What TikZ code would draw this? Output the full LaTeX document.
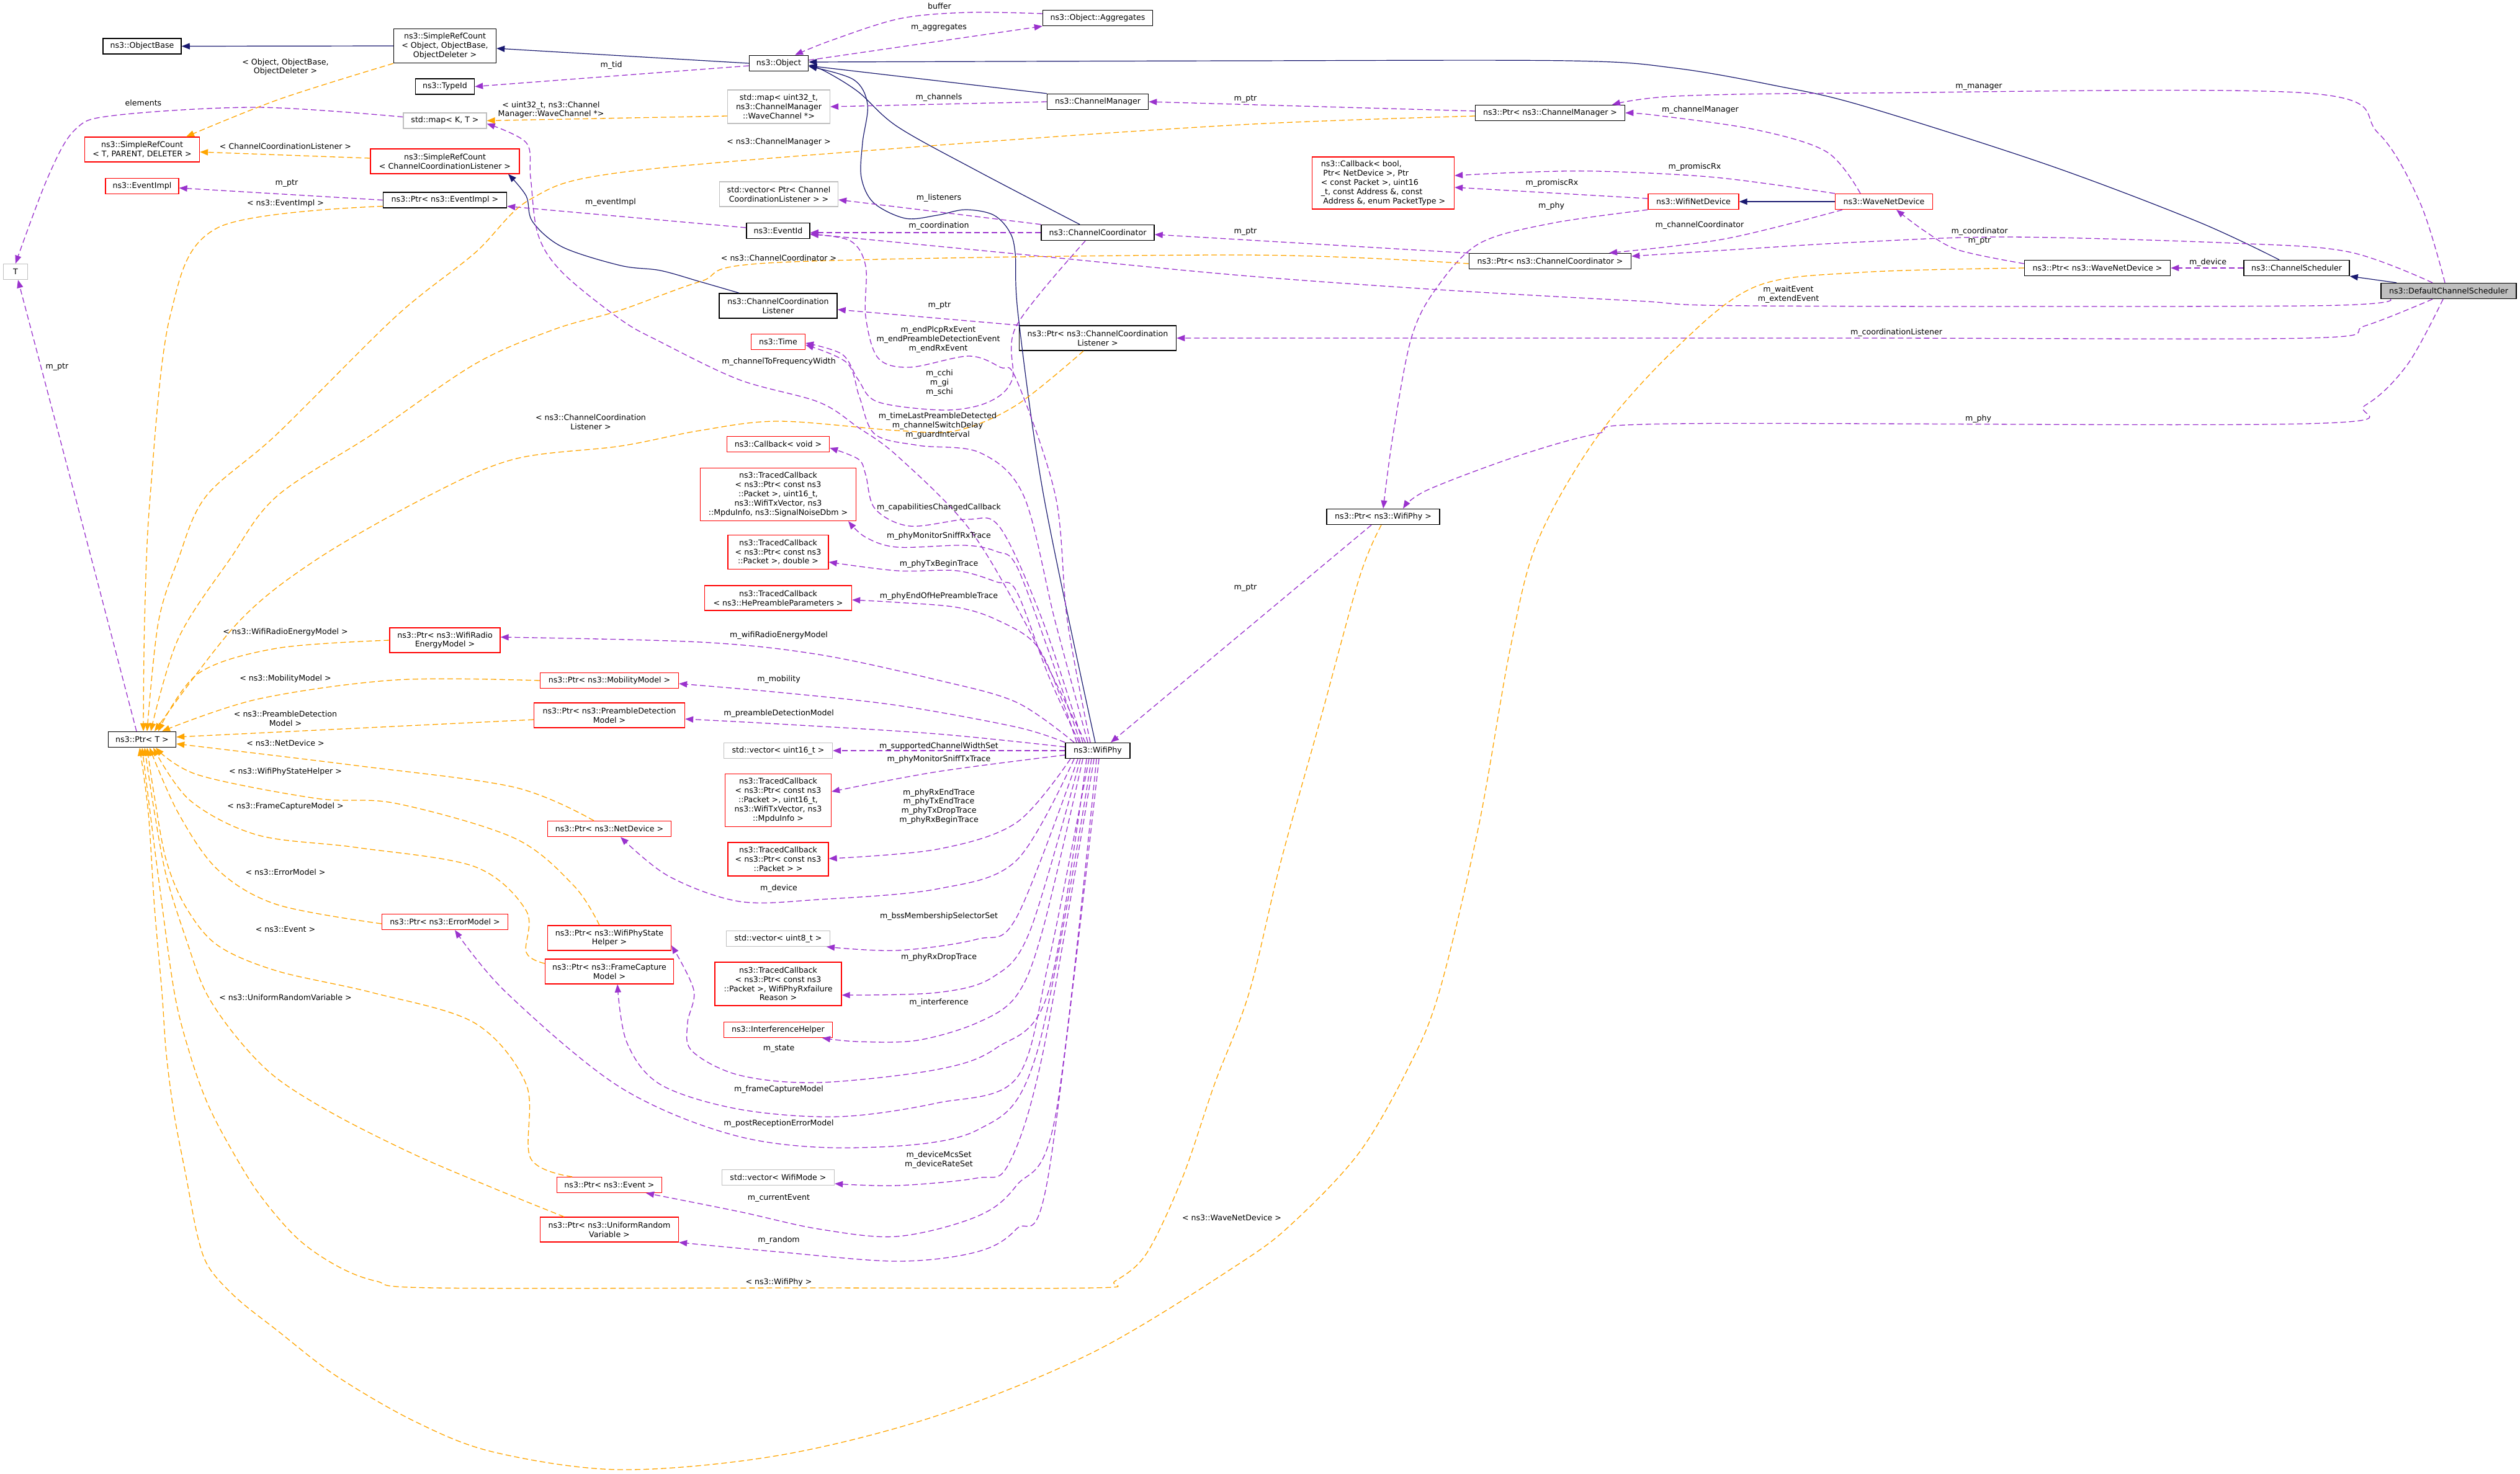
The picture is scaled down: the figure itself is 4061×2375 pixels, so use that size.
\documentclass[tikz,border=0pt]{standalone}
\usepackage{fontspec}
\setmainfont{DejaVu Sans}
\usetikzlibrary{arrows.meta}
\definecolor{purp}{HTML}{9A32CD}
\definecolor{orng}{HTML}{FFA500}
\definecolor{navyc}{HTML}{191970}
\definecolor{grayb}{HTML}{BFBFBF}
\newcommand\dgfont{\fontsize{12.6pt}{14.8pt}\selectfont}
\tikzset{
  nbase/.style={rectangle, fill=white, inner sep=1pt, align=center, font=\dgfont, minimum height=25pt},
  bk/.style={nbase, draw=black, line width=1.5pt},
  rd/.style={nbase, draw=red, line width=1.3pt},
  gy/.style={nbase, draw=grayb, line width=1.3pt},
  lbl/.style={font=\dgfont, align=center, inner sep=0pt},
  memb/.style={draw=purp, line width=1.3pt, dash pattern=on 9pt off 5pt, -{Triangle[length=13pt,width=10pt]}},
  tmpl/.style={draw=orng, line width=1.3pt, dash pattern=on 9pt off 5pt, -{Triangle[length=13pt,width=10pt]}},
  inher/.style={draw=navyc, line width=1.2pt, -{Triangle[length=13pt,width=10pt]}},
  sm/.style={smooth, tension=0.55}
}
\begin{document}
\begin{tikzpicture}[x=1pt,y=-1pt]
\fill[white] (0,0) rectangle (4061,2375);
\useasboundingbox (0,0) rectangle (4061,2375);

% ---------------- nodes ----------------
\node[bk, minimum width=126pt] (objbase) at (229,74.5) {ns3::ObjectBase};
\node[bk, minimum width=165pt, minimum height=55pt] (srcobj) at (717,74) {ns3::SimpleRefCount\\< Object, ObjectBase,\\ObjectDeleter >};
\node[bk, minimum width=95pt] (typeid) at (717,139.5) {ns3::TypeId};
\node[gy, minimum width=134pt] (mapkt) at (717,194.5) {std::map< K, T >};
\node[rd, minimum width=185pt, minimum height=40pt] (srctpd) at (229,241) {ns3::SimpleRefCount\\< T, PARENT, DELETER >};
\node[rd, minimum width=240pt, minimum height=40pt] (srccl) at (717,260) {ns3::SimpleRefCount\\< ChannelCoordinationListener >};
\node[rd, minimum width=118pt] (evimpl) at (229,300) {ns3::EventImpl};
\node[bk, minimum width=199pt] (ptrevimpl) at (717,322.5) {ns3::Ptr< ns3::EventImpl >};
\node[gy, minimum width=39pt] (tT) at (25,438) {T};
\node[bk, minimum width=109pt] (ptrT) at (229,1192) {ns3::Ptr< T >};
\node[bk, minimum width=95pt] (object) at (1255,102) {ns3::Object};
\node[bk, minimum width=177pt] (aggr) at (1769,29) {ns3::Object::Aggregates};
\node[gy, minimum width=165pt, minimum height=54pt] (mapu32) at (1255,172) {std::map< uint32\_t,\\ns3::ChannelManager\\::WaveChannel *>};
\node[bk, minimum width=163pt] (chmgr) at (1769,164) {ns3::ChannelManager};
\node[gy, minimum width=191pt, minimum height=40pt] (veccl) at (1255,313) {std::vector< Ptr< Channel\\CoordinationListener > >};
\node[bk, minimum width=102pt] (eventid) at (1254,372) {ns3::EventId};
\node[bk, minimum width=182pt] (chcoord) at (1769,375) {ns3::ChannelCoordinator};
\node[bk, minimum width=190pt, minimum height=40pt] (ccl) at (1254,493) {ns3::ChannelCoordination\\Listener};
\node[bk, minimum width=253pt, minimum height=40pt] (ptrccl) at (1769,545) {ns3::Ptr< ns3::ChannelCoordination\\Listener >};
\node[rd, minimum width=87pt] (time) at (1254,551) {ns3::Time};
\node[rd, minimum width=165pt] (cbvoid) at (1254,716) {ns3::Callback< void >};
\node[rd, minimum width=251pt, minimum height=85pt] (tcsnr) at (1254,797) {ns3::TracedCallback\\< ns3::Ptr< const ns3\\::Packet >, uint16\_t,\\ns3::WifiTxVector, ns3\\::MpduInfo, ns3::SignalNoiseDbm >};
\node[rd, minimum width=162pt, minimum height=55pt] (tcdbl) at (1254,890) {ns3::TracedCallback\\< ns3::Ptr< const ns3\\::Packet >, double >};
\node[rd, minimum width=237pt, minimum height=40pt] (tche) at (1254,964) {ns3::TracedCallback\\< ns3::HePreambleParameters >};
\node[rd, minimum width=178pt, minimum height=40pt] (ptrwre) at (717,1032) {ns3::Ptr< ns3::WifiRadio\\EnergyModel >};
\node[rd, minimum width=223pt] (ptrmob) at (982,1097) {ns3::Ptr< ns3::MobilityModel >};
\node[rd, minimum width=243pt, minimum height=40pt] (ptrpd) at (982,1153) {ns3::Ptr< ns3::PreambleDetection\\Model >};
\node[gy, minimum width=175pt] (vecu16) at (1254,1210) {std::vector< uint16\_t >};
\node[bk, minimum width=104pt] (wifiphy) at (1769,1210) {ns3::WifiPhy};
\node[rd, minimum width=171pt, minimum height=85pt] (tcmpdu) at (1254,1290) {ns3::TracedCallback\\< ns3::Ptr< const ns3\\::Packet >, uint16\_t,\\ns3::WifiTxVector, ns3\\::MpduInfo >};
\node[rd, minimum width=199pt] (ptrnd) at (982,1336) {ns3::Ptr< ns3::NetDevice >};
\node[rd, minimum width=162pt, minimum height=54pt] (tcpkt) at (1254,1385) {ns3::TracedCallback\\< ns3::Ptr< const ns3\\::Packet > >};
\node[gy, minimum width=167pt] (vecu8) at (1254,1513) {std::vector< uint8\_t >};
\node[rd, minimum width=199pt, minimum height=40pt] (ptrwpsh) at (982,1512) {ns3::Ptr< ns3::WifiPhyState\\Helper >};
\node[rd, minimum width=207pt, minimum height=40pt] (ptrfcm) at (982,1566) {ns3::Ptr< ns3::FrameCapture\\Model >};
\node[rd, minimum width=203pt] (ptrem) at (717,1486) {ns3::Ptr< ns3::ErrorModel >};
\node[rd, minimum width=204pt, minimum height=70pt] (tcfail) at (1254,1586) {ns3::TracedCallback\\< ns3::Ptr< const ns3\\::Packet >, WifiPhyRxfailure\\Reason >};
\node[rd, minimum width=175pt] (ifh) at (1254,1660) {ns3::InterferenceHelper};
\node[rd, minimum width=169pt] (ptrev) at (982,1910) {ns3::Ptr< ns3::Event >};
\node[gy, minimum width=181pt] (vecmode) at (1254,1898) {std::vector< WifiMode >};
\node[rd, minimum width=223pt, minimum height=40pt] (ptrurv) at (982,1982) {ns3::Ptr< ns3::UniformRandom\\Variable >};
\node[bk, minimum width=241pt] (ptrcm) at (2498,182) {ns3::Ptr< ns3::ChannelManager >};
\node[rd, minimum width=229pt, minimum height=84pt, align=left] (cbbool) at (2229,295) {ns3::Callback< bool,\\\hspace*{3.5pt}Ptr< NetDevice >, Ptr\\< const Packet >, uint16\\\_t, const Address \&, const\\\hspace*{3.5pt}Address \&, enum PacketType >};
\node[rd, minimum width=146pt] (wifind) at (2729,325) {ns3::WifiNetDevice};
\node[rd, minimum width=157pt] (wavend) at (3036,325) {ns3::WaveNetDevice};
\node[bk, minimum width=261pt] (ptrcc) at (2498,421) {ns3::Ptr< ns3::ChannelCoordinator >};
\node[bk, minimum width=235pt] (ptrwnd) at (3380,432) {ns3::Ptr< ns3::WaveNetDevice >};
\node[bk, minimum width=170pt] (chsched) at (3701,432) {ns3::ChannelScheduler};
\node[bk, minimum width=218pt, fill=grayb] (dcs) at (3946,469) {ns3::DefaultChannelScheduler};
\node[bk, minimum width=182pt] (ptrphy) at (2229,833) {ns3::Ptr< ns3::WifiPhy >};

% ---------------- inheritance ----------------
\draw[inher] (srcobj.west) -- (objbase.east);
\draw[inher] (object.west) -- ([yshift=-4pt]srcobj.east);
\draw[inher] (chmgr.north west) -- ([yshift=-4pt]object.east);
\draw[inher] plot[sm] coordinates {([xshift=-29pt]chcoord.north) (1574,275) (1446,204) (1383,148) (1330,115) ([yshift=-3pt]object.east)};
\draw[inher] plot[sm] coordinates {([xshift=-63pt]ccl.north) (1128,454) (1064,436) (1000,428) (906,398) (858,357) (848,316) ([xshift=102pt]srccl.south)};
\draw[inher] plot[sm] coordinates {([xshift=-4pt]wifiphy.north) (1682,800) (1641,510) (1636,408) (1626,372) (1600,346) (1555,338) (1510,347) (1459,352) (1408,327) (1388,286) (1390,230) (1398,168) (1375,128) ([yshift=-5pt]object.east)};
\draw[inher] (wavend.west) -- (wifind.east);
\draw[inher] plot[sm] coordinates {([xshift=-28pt]chsched.north) (3541,357) (3298,265) (3000,170) (2861,138) (2701,110) (2529,98) (2000,98) ([yshift=2pt]object.east)};
\draw[inher] ([xshift=-84pt]dcs.north) -- (chsched.south east);

% ---------------- member usage ----------------
\draw[memb] ([yshift=5pt]object.east) -- (aggr.south west);
\draw[memb] plot[sm] coordinates {([yshift=7pt]aggr.west) (1561,20) (1450,30) (1340,65) ([xshift=26pt]object.north)};
\draw[memb] ([yshift=-4pt]object.west) -- (typeid.east);
\draw[memb] (chmgr.west) -- (mapu32.east);
\draw[memb] ([yshift=3pt]ptrcm.west) -- (chmgr.east);
\draw[memb] plot[sm] coordinates {([xshift=-6pt]dcs.north) (3900,327) (3832,214) (3717,150) (3000,150) (2700,155) ([xshift=100pt]ptrcm.north)};
\draw[memb] plot[sm] coordinates {([xshift=-38pt]wavend.north) (2944,245) (2829,209) (2670,186) (ptrcm.east)};
\draw[memb] plot[sm] coordinates {(wavend.north west) (2765,286) (2574,276) (2446,278) ([yshift=12pt]cbbool.east)};
\draw[memb] ([yshift=5pt]wifind.west) -- ([yshift=-7pt]cbbool.east);
\draw[memb] plot[sm] coordinates {(wifind.south west) (2500,360) (2383,393) (2313,467) (2274,546) (2245,700) (ptrphy.north)};
\draw[memb] plot[sm] coordinates {([xshift=-67pt]wavend.south) (2780,385) ([xshift=95pt]ptrcc.north)};
\draw[memb] plot[sm] coordinates {([xshift=-26pt]dcs.north) (3785,406) (3600,392) (3237,382) (3000,390) (2800,402) ([yshift=8pt]ptrcc.east)};
\draw[memb] plot[sm] coordinates {([yshift=7pt]ptrwnd.west) (3156,403) (3101,372) ([xshift=20pt]wavend.south)};
\draw[memb] (chsched.west) -- (ptrwnd.east);
\draw[memb] ([yshift=13pt]ptrcc.west) -- ([yshift=-3pt]chcoord.east);
\draw[memb] (chcoord.north west) -- ([yshift=-9pt]veccl.east);
\draw[memb] (chcoord.west) -- ([yshift=-3pt]eventid.east);
\draw[memb] plot[sm] coordinates {([xshift=-94pt]dcs.south) (3717,493) (2829,493) (2638,485) (2319,467) (2000,444) (1656,411) ([yshift=-5pt]eventid.east)};
\draw[memb] ([yshift=5pt]eventid.west) -- ([yshift=-10pt]ptrevimpl.east);
\draw[memb] (ptrevimpl.west) -- ([yshift=-3pt]evimpl.east);
\draw[memb] plot[sm] coordinates {([xshift=-9pt]ptrT.north) (121,800) ([xshift=4pt]tT.south)};
\draw[memb] plot[sm] coordinates {([yshift=6pt]mapkt.west) (415,173) (185,186) (121,209) (77,286) (tT.north)};
\draw[memb] (ptrccl.north west) -- ([yshift=-6pt]ccl.east);
\draw[memb] plot[sm] coordinates {([xshift=-26pt]dcs.south) (3812,525) (3717,545) (3000,545) (ptrccl.east)};
\draw[memb] plot[sm] coordinates {([xshift=-9pt]dcs.south) (3880,587) (3812,653) (3717,683) (2701,683) (2574,699) (2446,735) (2300,790) ([xshift=32pt]ptrphy.north)};
\draw[memb] ([xshift=-19pt]ptrphy.south) -- ([xshift=21pt]wifiphy.north);
\draw[memb] plot[sm] coordinates {([xshift=-20pt]chcoord.south) (1638,525) (1631,612) (1593,648) (1523,661) (1415,648) (1383,612) (1357,571) ([yshift=-2pt]time.east)};

% WifiPhy members
\draw[memb] plot[sm] coordinates {([xshift=-12pt]wifiphy.north) (1720,1000) (1701,800) (1638,612) (1612,592) (1561,574) (1466,592) (1415,577) (1395,510) (1395,429) (1370,388) ([yshift=-6pt]eventid.east)};
\draw[memb] plot[sm] coordinates {([xshift=-16pt]wifiphy.north) (1700,1000) (1650,800) (1580,730) (1480,718) (1410,700) (1385,640) (1365,585) ([yshift=-5pt]time.east)};
\draw[memb] plot[sm] coordinates {([xshift=-20pt]wifiphy.north) (1650,1000) (1560,850) (1446,735) (1383,689) (1319,648) (1191,612) (1064,551) (1000,515) (906,439) (867,378) (855,286) (848,230) ([yshift=-5pt]mapkt.east)};
\draw[memb] plot[sm] coordinates {([xshift=-24pt]wifiphy.north) (1680,1000) (1612,851) (1561,837) (1466,848) (1410,820) (1395,765) (1383,740) ([yshift=-6pt]cbvoid.east)};
\draw[memb] plot[sm] coordinates {([xshift=-28pt]wifiphy.north) (1690,1050) (1638,912) (1606,889) (1555,879) (1446,882) (1395,866) ([xshift=113pt]tcsnr.south)};
\draw[memb] plot[sm] coordinates {([xshift=-30pt]wifiphy.north) (1690,1090) (1638,953) (1606,938) (1542,920) (1446,920) ([yshift=-16pt]tcdbl.east)};
\draw[memb] plot[sm] coordinates {([xshift=-34pt]wifiphy.north) (1712,1130) (1670,1040) (1606,999) (1542,979) (1446,971) ([yshift=-3pt]tche.east)};
\draw[memb] plot[sm] coordinates {([xshift=-38pt]wifiphy.north) (1638,1132) (1510,1096) (1319,1055) (1128,1035) ([yshift=5pt]ptrwre.east)};
\draw[memb] plot[sm] coordinates {(wifiphy.north west) (1638,1172) (1446,1137) (1255,1116) ([yshift=-5pt]ptrmob.east)};
\draw[memb] plot[sm] coordinates {([yshift=6pt]wifiphy.west) (1510,1183) (1255,1167) ([yshift=-6pt]ptrpd.east)};
\draw[memb] (wifiphy.west) -- (vecu16.east);
\draw[memb] plot[sm] coordinates {([yshift=-7pt]wifiphy.west) (1510,1244) ([yshift=14pt]tcmpdu.east)};
\draw[memb] plot[sm] coordinates {([xshift=-44pt]wifiphy.south) (1638,1326) (1510,1369) ([yshift=1pt]tcpkt.east)};
\draw[memb] plot[sm] coordinates {([xshift=-38pt]wifiphy.south) (1638,1387) (1510,1433) (1319,1450) (1191,1453) (1077,1412) ([xshift=18pt]ptrnd.south)};
\draw[memb] plot[sm] coordinates {([xshift=-32pt]wifiphy.south) (1638,1479) (1574,1514) (1446,1532) ([xshift=78pt]vecu8.south)};
\draw[memb] plot[sm] coordinates {([xshift=-28pt]wifiphy.south) (1660,1500) (1600,1575) (1510,1600) ([yshift=-18pt]tcfail.east)};
\draw[memb] plot[sm] coordinates {([xshift=-24pt]wifiphy.south) (1680,1500) (1638,1605) (1574,1649) (1478,1677) (1383,1679) ([xshift=71pt]ifh.south)};
\draw[memb] plot[sm] coordinates {([xshift=-18pt]wifiphy.south) (1689,1600) (1606,1689) (1510,1724) (1319,1745) (1191,1733) (1115,1694) (1108,1649) (1118,1596) ([yshift=-12pt]ptrwpsh.east)};
\draw[memb] plot[sm] coordinates {([xshift=-14pt]wifiphy.south) (1690,1550) (1638,1738) (1510,1778) (1351,1800) (1191,1788) (1064,1748) (1010,1680) ([xshift=13pt]ptrfcm.south)};
\draw[memb] plot[sm] coordinates {([xshift=-10pt]wifiphy.south) (1670,1700) (1574,1822) (1383,1850) (1191,1832) (1000,1753) (816,1600) ([xshift=16pt]ptrem.south)};
\draw[memb] plot[sm] coordinates {([xshift=-6pt]wifiphy.south) (1680,1700) (1625,1877) (1574,1899) (1446,1911) ([yshift=-10pt]vecmode.east)};
\draw[memb] plot[sm] coordinates {([xshift=-2pt]wifiphy.south) (1701,1798) (1638,1911) (1574,1961) (1446,1993) (1319,1981) (1191,1953) ([xshift=59pt]ptrev.south)};
\draw[memb] plot[sm] coordinates {([xshift=2pt]wifiphy.south) (1689,1897) (1638,1981) (1574,2018) (1446,2033) (1255,2018) (ptrurv.south east)};

% ---------------- template instances ----------------
\draw[tmpl] plot[sm] coordinates {(srcobj.south west) (450,160) ([xshift=71pt]srctpd.north)};
\draw[tmpl] ([yshift=5pt]srccl.west) -- ([yshift=-4pt]srctpd.east);
\draw[tmpl] ([yshift=-15pt]mapu32.west) -- (mapkt.east);
\draw[tmpl] plot[sm] coordinates {([yshift=-10pt]ptrevimpl.west) (351,367) (274,510) (242,800) (233,1000) ([xshift=2pt]ptrT.north)};
\draw[tmpl] plot[sm] coordinates {([yshift=-5pt]ptrcm.west) (2000,201) (1500,235) (1000,278) (855,321) (765,408) (638,510) (446,700) (332,800) (287,902) (255,1004) ([xshift=8pt]ptrT.north)};
\draw[tmpl] plot[sm] coordinates {([yshift=-4pt]ptrcc.west) (2000,411) (1255,423) (1128,454) (1000,500) (893,531) (765,587) (600,700) (446,800) (370,902) (287,1030) ([xshift=14pt]ptrT.north)};
\draw[tmpl] plot[sm] coordinates {([xshift=-23pt]ptrccl.south) (1638,653) (1542,694) (1446,694) (1255,679) (1128,694) (1000,719) (829,740) (689,800) (510,902) (383,1004) ([xshift=20pt]ptrT.north)};
\draw[tmpl] plot[sm] coordinates {(ptrwre.west) (446,1045) (319,1086) ([xshift=26pt]ptrT.north)};
\draw[tmpl] plot[sm] coordinates {(ptrmob.west) (638,1096) (415,1127) ([xshift=32pt]ptrT.north)};
\draw[tmpl] ([yshift=-7pt]ptrpd.west) -- ([yshift=4pt]ptrT.east);
\draw[tmpl] plot[sm] coordinates {([xshift=-25pt]ptrnd.north) (829,1269) (574,1234) ([yshift=-7pt]ptrT.east)};
\draw[tmpl] plot[sm] coordinates {([xshift=-16pt]ptrwpsh.north) (925,1428) (829,1351) (638,1295) (510,1287) (319,1249) ([xshift=22pt]ptrT.south)};
\draw[tmpl] plot[sm] coordinates {([yshift=13pt]ptrfcm.west) (848,1535) (848,1468) (765,1397) (574,1366) (415,1346) (306,1290) ([xshift=18pt]ptrT.south)};
\draw[tmpl] plot[sm] coordinates {([yshift=-3pt]ptrem.west) (446,1458) (351,1402) (287,1310) ([xshift=12pt]ptrT.south)};
\draw[tmpl] plot[sm] coordinates {([xshift=-60pt]ptrev.north) (855,1867) (848,1748) (765,1649) (600,1600) (446,1565) (351,1524) (300,1463) (268,1387) (249,1285) ([xshift=8pt]ptrT.south)};
\draw[tmpl] plot[sm] coordinates {([xshift=-73pt]ptrurv.north) (797,1916) (670,1862) (542,1798) (446,1738) (383,1674) (332,1600) (300,1514) (268,1412) (249,1310) ([xshift=4pt]ptrT.south)};
\draw[tmpl] plot[sm] coordinates {([xshift=-3pt]ptrphy.south) (2191,930) (2128,1159) (2064,1389) (2013,1600) (1957,1748) (1906,1897) (1848,2020) (1797,2065) (1760,2076) (1300,2076) (702,2076) (606,2065) (542,2040) (478,1995) (415,1921) (364,1837) (332,1773) (306,1699) (281,1600) (255,1412) (242,1310) (ptrT.south)};
\draw[tmpl] plot[sm] coordinates {(ptrwnd.west) (3000,439) (2829,462) (2701,561) (2574,704) (2478,872) (2434,1044) (2383,1331) (2319,1600) (2268,1724) (2191,1857) (2089,1966) (2000,2035) (1765,2178) (1510,2282) (1255,2346) (1000,2369) (797,2341) (670,2292) (542,2218) (446,2144) (383,2094) (338,2045) (319,1995) (300,1897) (281,1798) (268,1699) (261,1600) (249,1463) (239,1310) ([xshift=-4pt]ptrT.south)};

% ---------------- labels ----------------
\node[lbl] (l01) at (1514,10) {buffer};
\node[lbl] (l02) at (1513,45) {m\_aggregates};
\node[lbl] (l03) at (985,105) {m\_tid};
\node[lbl] (l04) at (460,108) {< Object, ObjectBase,\\ObjectDeleter >};
\node[lbl] (l05) at (231,166) {elements};
\node[lbl] (l06) at (888,177) {< uint32\_t, ns3::Channel\\Manager::WaveChannel *>};
\node[lbl] (l07) at (1513,157) {m\_channels};
\node[lbl] (l08) at (2007,160) {m\_ptr};
\node[lbl] (l09) at (3189,140) {m\_manager};
\node[lbl] (l10) at (2740,177) {m\_channelManager};
\node[lbl] (l11) at (460,236) {< ChannelCoordinationListener >};
\node[lbl] (l12) at (1255,229) {< ns3::ChannelManager >};
\node[lbl] (l13) at (2731,269) {m\_promiscRx};
\node[lbl] (l14) at (2501,295) {m\_promiscRx};
\node[lbl] (l15) at (2500,332) {m\_phy};
\node[lbl] (l16) at (462,296) {m\_ptr};
\node[lbl] (l17) at (460,328) {< ns3::EventImpl >};
\node[lbl] (l18) at (984,326) {m\_eventImpl};
\node[lbl] (l19) at (1513,319) {m\_listeners};
\node[lbl] (l20) at (1513,364) {m\_coordination};
\node[lbl] (l21) at (2739,363) {m\_channelCoordinator};
\node[lbl] (l22) at (3190,373) {m\_coordinator};
\node[lbl] (l23) at (3190,389) {m\_ptr};
\node[lbl] (l24) at (2007,374) {m\_ptr};
\node[lbl] (l25) at (1255,416) {< ns3::ChannelCoordinator >};
\node[lbl] (l26) at (3558,423) {m\_device};
\node[lbl] (l27) at (2882,475) {m\_waitEvent\\m\_extendEvent};
\node[lbl] (l28) at (1514,493) {m\_ptr};
\node[lbl] (l29) at (3056,536) {m\_coordinationListener};
\node[lbl] (l30) at (1512,547) {m\_endPlcpRxEvent\\m\_endPreambleDetectionEvent\\m\_endRxEvent};
\node[lbl] (l31) at (1255,583) {m\_channelToFrequencyWidth};
\node[lbl] (l32) at (1514,617) {m\_cchi\\m\_gi\\m\_schi};
\node[lbl] (l33) at (92,592) {m\_ptr};
\node[lbl] (l34) at (952,680) {< ns3::ChannelCoordination\\Listener >};
\node[lbl] (l35) at (1511,686) {m\_timeLastPreambleDetected\\m\_channelSwitchDelay\\m\_guardInterval};
\node[lbl] (l36) at (3188,675) {m\_phy};
\node[lbl] (l37) at (1513,818) {m\_capabilitiesChangedCallback};
\node[lbl] (l38) at (1513,864) {m\_phyMonitorSniffRxTrace};
\node[lbl] (l39) at (1513,909) {m\_phyTxBeginTrace};
\node[lbl] (l40) at (1513,961) {m\_phyEndOfHePreambleTrace};
\node[lbl] (l41) at (2007,948) {m\_ptr};
\node[lbl] (l42) at (460,1019) {< ns3::WifiRadioEnergyModel >};
\node[lbl] (l43) at (1255,1024) {m\_wifiRadioEnergyModel};
\node[lbl] (l44) at (460,1094) {< ns3::MobilityModel >};
\node[lbl] (l45) at (1255,1095) {m\_mobility};
\node[lbl] (l46) at (460,1158) {< ns3::PreambleDetection\\Model >};
\node[lbl] (l47) at (1255,1150) {m\_preambleDetectionModel};
\node[lbl] (l48) at (460,1198) {< ns3::NetDevice >};
\node[lbl] (l49) at (1513,1203) {m\_supportedChannelWidthSet};
\node[lbl] (l50) at (1513,1224) {m\_phyMonitorSniffTxTrace};
\node[lbl] (l51) at (460,1244) {< ns3::WifiPhyStateHelper >};
\node[lbl] (l52) at (1513,1300) {m\_phyRxEndTrace\\m\_phyTxEndTrace\\m\_phyTxDropTrace\\m\_phyRxBeginTrace};
\node[lbl] (l53) at (460,1300) {< ns3::FrameCaptureModel >};
\node[lbl] (l54) at (460,1406) {< ns3::ErrorModel >};
\node[lbl] (l55) at (1255,1432) {m\_device};
\node[lbl] (l56) at (1513,1477) {m\_bssMembershipSelectorSet};
\node[lbl] (l57) at (460,1498) {< ns3::Event >};
\node[lbl] (l58) at (1513,1543) {m\_phyRxDropTrace};
\node[lbl] (l59) at (460,1608) {< ns3::UniformRandomVariable >};
\node[lbl] (l60) at (1513,1616) {m\_interference};
\node[lbl] (l61) at (1255,1691) {m\_state};
\node[lbl] (l62) at (1255,1756) {m\_frameCaptureModel};
\node[lbl] (l63) at (1255,1811) {m\_postReceptionErrorModel};
\node[lbl] (l64) at (1513,1870) {m\_deviceMcsSet\\m\_deviceRateSet};
\node[lbl] (l65) at (1255,1931) {m\_currentEvent};
\node[lbl] (l66) at (1985,1963) {< ns3::WaveNetDevice >};
\node[lbl] (l67) at (1255,1999) {m\_random};
\node[lbl] (l68) at (1255,2067) {< ns3::WifiPhy >};
\end{tikzpicture}
\end{document}
